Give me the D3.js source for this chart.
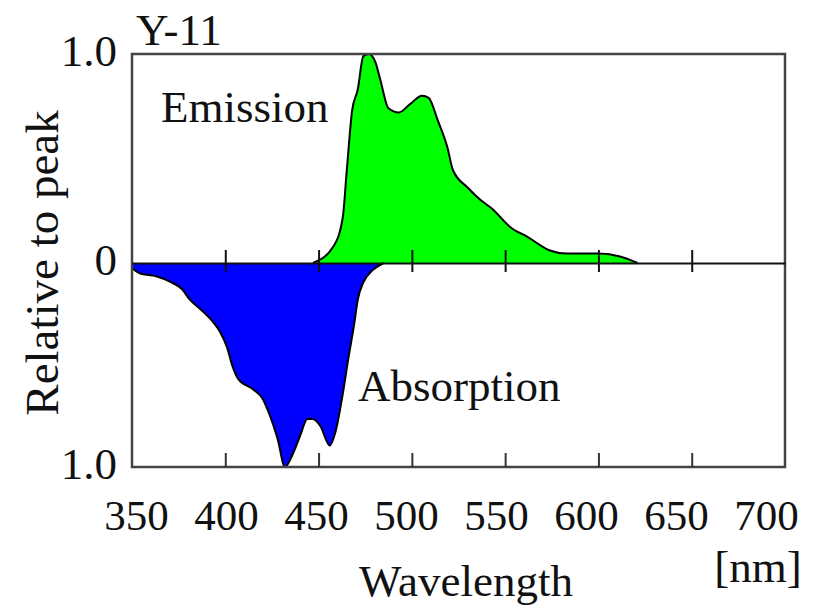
<!DOCTYPE html>
<html>
<head>
<meta charset="utf-8">
<script src="https://cdn.jsdelivr.net/npm/d3@7"></script>
<style>
  html, body { margin: 0; padding: 0; background: #fff; }
  svg text { font-family: "Liberation Serif", "Times New Roman", serif; fill: #111; }
</style>
</head>
<body>
<svg id="chart" width="836" height="609"></svg>
<script>
// ---- data ----
const title = "Y-11";
const xTicks = [350, 400, 450, 500, 550, 600, 650, 700];
const yTickValues = [1, 0, -1];
const yTickLabels = ["1.0", "0", "1.0"];

const emissionWl = [447, 458, 463, 465, 468, 471, 474, 477, 480.5, 483, 487.5, 493, 499, 505.5, 509, 514, 519, 522, 530, 537, 543, 553, 562, 574, 583, 600, 612, 621];
const emissionVal = [0.0, 0.08, 0.22, 0.43, 0.73, 0.83, 0.99, 1.0, 0.96, 0.88, 0.74, 0.72, 0.76, 0.80, 0.79, 0.68, 0.555, 0.445, 0.36, 0.30, 0.26, 0.17, 0.125, 0.06, 0.045, 0.045, 0.03, 0.0];

const absorptionWl = [350, 354, 363, 370, 377, 381, 386.5, 393.5, 397, 401, 404, 407, 415, 420, 424, 428, 432, 436, 440, 444, 447, 451, 456, 459, 463, 466, 469, 471, 474, 479, 485];
const absorptionVal = [0.025, 0.05, 0.065, 0.09, 0.13, 0.18, 0.225, 0.29, 0.335, 0.415, 0.51, 0.57, 0.62, 0.665, 0.75, 0.86, 1.0, 0.94, 0.85, 0.765, 0.765, 0.8, 0.895, 0.83, 0.64, 0.465, 0.305, 0.18, 0.095, 0.035, 0.0];

// ---- layout ----
const svg = d3.select("#chart");
const mLeft = 132, mRight = 785, mTop = 54, mBottom = 467, zeroY = 263;
const fs = "45px";

const x = d3.scaleLinear().domain([350, 700]).range([mLeft, mRight]);
const y = d3.scaleLinear().domain([-1, 0, 1]).range([mBottom, zeroY, mTop]);
// tick labels in the original are set slightly tighter than the ticks
const xLabel = d3.scaleLinear().domain([350, 700]).range([136, 766]);

const emission = emissionWl.map((w, i) => ({ w, v: emissionVal[i] }));
const absorption = absorptionWl.map((w, i) => ({ w, v: -absorptionVal[i] }));

const area = d3.area()
  .x(d => x(d.w))
  .y0(y(0))
  .y1(d => y(d.v))
  .curve(d3.curveMonotoneX);

const line = d3.line()
  .x(d => x(d.w))
  .y(d => y(d.v))
  .curve(d3.curveMonotoneX);

// fills
svg.append("path").datum(absorption).attr("d", area).attr("fill", "#0000ff");
svg.append("path").datum(emission).attr("d", area).attr("fill", "#00ff00");
svg.append("path").datum(absorption).attr("d", line).attr("fill", "none").attr("stroke", "#000").attr("stroke-width", 2);
svg.append("path").datum(emission).attr("d", line).attr("fill", "none").attr("stroke", "#000").attr("stroke-width", 2);

// frame
svg.append("rect")
  .attr("x", mLeft).attr("y", mTop)
  .attr("width", mRight - mLeft).attr("height", mBottom - mTop)
  .attr("fill", "none").attr("stroke", "#444").attr("stroke-width", 2.5);

// zero line axis with ticks crossing
const zeroAxis = d3.axisBottom(x).tickValues(xTicks.slice(1, -1)).tickSize(0).tickFormat("");
const gz = svg.append("g").attr("transform", `translate(0,${y(0)})`).call(zeroAxis);
gz.select(".domain").attr("stroke", "#111").attr("stroke-width", 2);
gz.selectAll(".tick").append("line").attr("y1", -13).attr("y2", 9).attr("stroke", "#111").attr("stroke-width", 2);

// bottom axis with inward ticks + labels
const bottomAxis = d3.axisBottom(x).tickValues(xTicks).tickSize(0).tickPadding(0).tickFormat(d3.format("d"));
const gb = svg.append("g").attr("transform", `translate(0,${mBottom})`).call(bottomAxis);
gb.select(".domain").remove();
gb.selectAll(".tick").filter(d => d !== 350 && d !== 700)
  .append("line").attr("y1", 0).attr("y2", -14).attr("stroke", "#333").attr("stroke-width", 2);
gb.selectAll(".tick text")
  .attr("y", 63).attr("dy", null).attr("x", d => xLabel(d) - x(d))
  .style("font-size", "43px")
  .style("font-family", "'Liberation Serif', serif");

// y tick labels
const yAxis = d3.axisLeft(y).tickValues(yTickValues).tickSize(0).tickPadding(15)
  .tickFormat((d, i) => yTickLabels[i]);
const gy = svg.append("g").attr("transform", `translate(${mLeft},0)`).call(yAxis);
gy.select(".domain").remove();
gy.selectAll(".tick text")
  .style("font-size", fs)
  .style("font-family", "'Liberation Serif', serif")
  .attr("dy", null).attr("y", 11);

// texts
svg.append("text").attr("x", 136).attr("y", 45).style("font-size", fs).text(title);
svg.append("text").attr("x", 161).attr("y", 122).style("font-size", fs).text("Emission");
svg.append("text").attr("x", 358).attr("y", 401).style("font-size", fs).text("Absorption");
svg.append("text").attr("x", 466).attr("y", 596).attr("text-anchor", "middle").style("font-size", fs).text("Wavelength");
svg.append("text").attr("x", 758).attr("y", 582).attr("text-anchor", "middle").style("font-size", fs).text("[nm]");
svg.append("text")
  .attr("transform", `translate(58,${y(0)}) rotate(-90)`)
  .attr("text-anchor", "middle")
  .style("font-size", "47px")
  .text("Relative to peak");
</script>
</body>
</html>
